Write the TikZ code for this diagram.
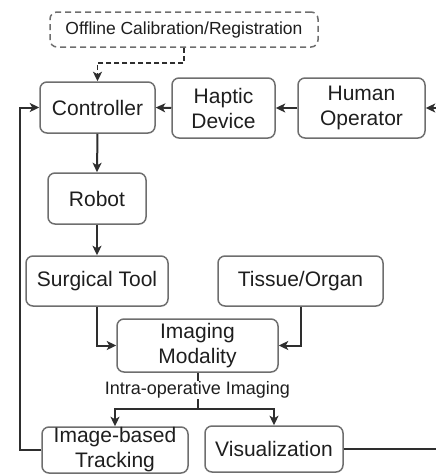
\documentclass[tikz,border=0pt]{standalone}
\usepackage{fontspec}
\setmainfont{Liberation Sans}
\usetikzlibrary{arrows.meta}
\definecolor{boxgray}{HTML}{6E6E6E}
\definecolor{linegray}{HTML}{2E2E2E}
\definecolor{txtgray}{HTML}{1E1E1E}
\begin{document}
\begin{tikzpicture}[x=1pt,y=-1pt,
  blk/.style={draw=boxgray, line width=1.5pt, rounded corners=7pt, inner sep=0pt,
    align=center, text=txtgray, font=\fontsize{21}{25}\selectfont},
  conn/.style={draw=linegray, line width=2pt},
  arr/.style={conn, -{Stealth[length=9.5pt,width=9pt,inset=2.5pt]}}
]
\useasboundingbox (0,0) rectangle (436,475);

\node[blk, dashed, dash pattern=on 6pt off 4pt, minimum width=268pt, minimum height=35pt,
  font=\fontsize{17.5}{20}\selectfont] (off) at (184,29.5) {Offline Calibration/Registration};
\node[blk, minimum width=115pt, minimum height=51pt] (ctrl) at (97.5,107.5) {Controller};
\node[blk, minimum width=103pt, minimum height=60pt] (hap) at (223.5,108) {Haptic\\Device};
\node[blk, minimum width=127pt, minimum height=60pt] (hum) at (361.5,108) {Human\\Operator};
\node[blk, minimum width=98pt, minimum height=51pt] (rob) at (97,198.5) {Robot};
\node[blk, minimum width=142pt, minimum height=50pt] (tool) at (97,281) {Surgical Tool};
\node[blk, minimum width=165pt, minimum height=50pt] (tis) at (300.5,281) {Tissue/Organ};
\node[blk, minimum width=161pt, minimum height=53pt] (img) at (197.5,345.5) {Imaging\\Modality};
\node[blk, minimum width=146pt, minimum height=46pt] (trk) at (115,450) {Image-based\\Tracking};
\node[blk, minimum width=138pt, minimum height=46pt] (vis) at (274,449) {Visualization};

\coordinate (rin) at (436,108);
\coordinate (rout) at (436,449);
\coordinate (lft) at (20,450);
\coordinate (br) at (197.5,409);

% dashed connector
\draw[arr, dashed, dash pattern=on 5pt off 3pt, line width=1.7pt] (off.south) -- (off.south |- 0,63) -| (ctrl.north);

\draw[arr] (rin) -- (hum.east);
\draw[arr] (hum.west) -- (hap.east);
\draw[arr] (hap.west) -- (ctrl.east);
\draw[arr] (ctrl.south) -- (rob.north);
\draw[arr] (rob.south) -- (tool.north);
\draw[arr] (tool.south) |- (img.west);
\draw[arr] (tis.south) |- (img.east);
\draw[conn] (img.south) -- (br);
\node[fill=white, inner sep=1pt, text=txtgray, font=\fontsize{18}{20}\selectfont] (lab) at (197.5,390) {Intra-operative Imaging};
\draw[arr] (br) -| (trk.north);
\draw[arr] (br) -| (vis.north);
\draw[conn] (vis.east) -- (rout);
\draw[arr] (trk.west) -- (lft) |- (ctrl.west);
\end{tikzpicture}
\end{document}
